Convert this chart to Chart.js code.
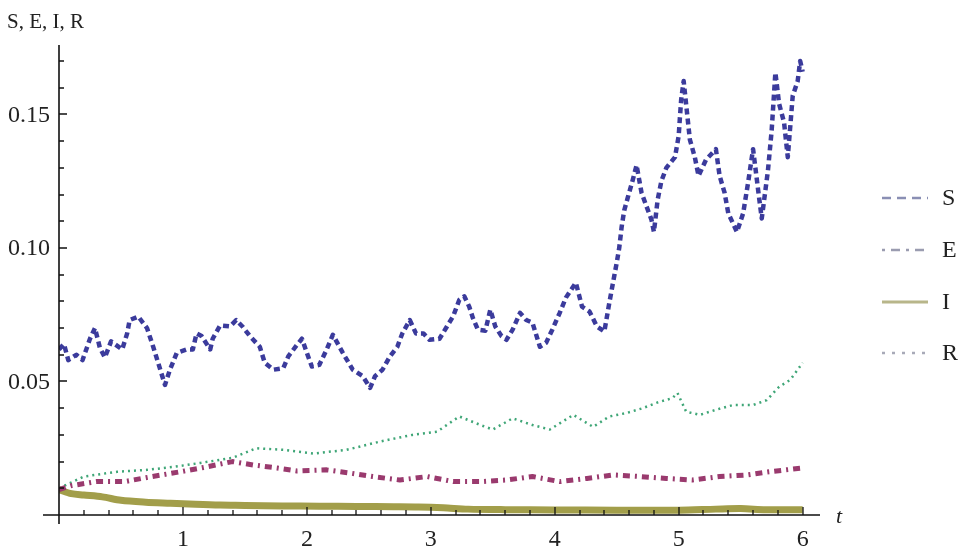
<!DOCTYPE html>
<html lang="en">
<head>
    <meta charset="UTF-8">
    <title>S, E, I, R</title>
    <script src="https://cdn.jsdelivr.net/npm/chart.js"></script>
    <style>
        body { margin: 0; background: #fff; }
        canvas { display: block; }
    </style>
</head>
<body>
    <canvas id="seirChart" width="967" height="550"></canvas>

    <script>
        // values
        const sT = [0, 0.04, 0.075, 0.14, 0.19, 0.25, 0.29, 0.33, 0.37, 0.42, 0.51, 0.55, 0.57, 0.64, 0.71, 0.76, 0.80, 0.855, 0.895, 0.95,
            1.03, 1.08, 1.11, 1.15, 1.22, 1.24, 1.30, 1.38, 1.43, 1.48, 1.54, 1.62, 1.66, 1.73, 1.81, 1.85, 1.92, 1.96,
            2.00, 2.04, 2.10, 2.16, 2.21, 2.29, 2.37, 2.45, 2.51, 2.55, 2.61, 2.67, 2.73, 2.77, 2.83, 2.88, 2.94, 2.99,
            3.07, 3.13, 3.18, 3.23, 3.27, 3.31, 3.34, 3.38, 3.44, 3.48, 3.52, 3.57, 3.61, 3.66, 3.72, 3.77, 3.82, 3.88, 3.93, 3.98,
            4.04, 4.09, 4.17, 4.22, 4.28, 4.34, 4.40, 4.44, 4.47, 4.50, 4.52, 4.54, 4.56, 4.59, 4.63, 4.66, 4.70, 4.74, 4.78, 4.80,
            4.83, 4.86, 4.90, 4.97, 5.00, 5.01, 5.02, 5.04, 5.09, 5.13, 5.16, 5.22, 5.30, 5.33, 5.37, 5.40, 5.47, 5.52, 5.56,
            5.60, 5.64, 5.67, 5.72, 5.75, 5.78, 5.81, 5.85, 5.88, 5.92, 5.96, 5.98, 6.00];
        const sV = [0.062, 0.064, 0.058, 0.060, 0.058, 0.066, 0.070, 0.0626, 0.059, 0.065, 0.062, 0.068, 0.073, 0.0743, 0.070, 0.063, 0.057, 0.0487, 0.0544, 0.0607,
            0.062, 0.062, 0.068, 0.067, 0.062, 0.066, 0.071, 0.0706, 0.073, 0.0706, 0.067, 0.063, 0.057, 0.0544, 0.055, 0.0594, 0.0637, 0.066,
            0.0607, 0.0556, 0.0562, 0.062, 0.0675, 0.0607, 0.0544, 0.052, 0.0476, 0.052, 0.0544, 0.0594, 0.063, 0.068, 0.073, 0.068, 0.068, 0.0656,
            0.066, 0.0706, 0.0744, 0.0806, 0.0819, 0.078, 0.0737, 0.0694, 0.069, 0.0769, 0.0706, 0.067, 0.0656, 0.0694, 0.0757, 0.073, 0.072, 0.063, 0.0645, 0.0694,
            0.0757, 0.0814, 0.087, 0.078, 0.0762, 0.0706, 0.0687, 0.0794, 0.087, 0.0945, 0.100, 0.108, 0.114, 0.119, 0.1256, 0.131, 0.1207, 0.1156, 0.1106, 0.106,
            0.118, 0.125, 0.130, 0.134, 0.142, 0.149, 0.1556, 0.1625, 0.1406, 0.134, 0.127, 0.133, 0.137, 0.127, 0.1207, 0.113, 0.106, 0.113, 0.1245,
            0.137, 0.122, 0.111, 0.129, 0.144, 0.1657, 0.154, 0.147, 0.134, 0.157, 0.1625, 0.170, 0.166];

        const eT = [0, 0.1, 0.3, 0.53, 0.75, 0.98, 1.19, 1.4, 1.57, 1.76, 1.92, 2.16, 2.35, 2.53, 2.75, 2.97, 3.18, 3.4, 3.61, 3.82,
            4.04, 4.26, 4.47, 4.69, 4.9, 5.11, 5.33, 5.55, 5.73, 6.0];
        const eV = [0.0095, 0.011, 0.0125, 0.0125, 0.0144, 0.0162, 0.018, 0.020, 0.0187, 0.0176, 0.0165, 0.0169, 0.0157, 0.0144, 0.0131, 0.0144, 0.0125, 0.0125, 0.0131, 0.0144,
            0.0125, 0.0137, 0.015, 0.0144, 0.0137, 0.0131, 0.0144, 0.015, 0.0162, 0.0176];

        const iT = [0, 0.1, 0.2, 0.35, 0.5, 0.7, 0.9, 1.1, 1.3, 1.5, 1.8, 2.1, 2.4, 2.7, 2.9, 3.1, 3.3, 3.6, 4.0, 4.5, 5.0, 5.3, 5.5, 5.7, 6.0];
        const iV = [0.0095, 0.008, 0.0075, 0.0068, 0.0055, 0.0048, 0.0044, 0.004, 0.0037, 0.0036, 0.0034, 0.0033, 0.0032, 0.0031, 0.003, 0.0027, 0.0022, 0.002, 0.0019, 0.0018,
            0.0018, 0.0022, 0.0024, 0.002, 0.002];

        const rT = [0, 0.2, 0.47, 0.71, 0.92, 1.14, 1.4, 1.59, 1.81, 2.05, 2.32, 2.59, 2.85, 3.05, 3.23, 3.4, 3.5, 3.66, 3.82, 3.96,
            4.15, 4.31, 4.44, 4.58, 4.71, 4.82, 4.95, 4.99, 5.06, 5.17, 5.3, 5.44, 5.6, 5.71, 5.81, 5.9, 6.0];
        const rV = [0.010, 0.0144, 0.0162, 0.0169, 0.018, 0.0195, 0.0214, 0.025, 0.0244, 0.023, 0.0244, 0.0275, 0.030, 0.0312, 0.0369, 0.0337, 0.032, 0.0362, 0.0337, 0.032,
            0.0375, 0.033, 0.0369, 0.0382, 0.040, 0.042, 0.0438, 0.0457, 0.0387, 0.0375, 0.0394, 0.0412, 0.0412, 0.043, 0.048, 0.0506, 0.057];

        const xTicks = [1, 2, 3, 4, 5, 6];
        const yTicks = [0.05, 0.10, 0.15];
        const yTickLabels = ['0.05', '0.10', '0.15'];
        const seriesNames = ['S', 'E', 'I', 'R'];

        function toPoints(ts, vs) {
            return ts.map((t, i) => ({ x: t, y: vs[i] }));
        }

        const serif = "'Liberation Serif', 'DejaVu Serif', serif";

        // axes, ticks, labels and legend drawn the Mathematica way
        const mathAxes = {
            id: 'mathAxes',
            afterDraw(chart) {
                const ctx = chart.ctx;
                const xs = chart.scales.x, ys = chart.scales.y;
                const x0 = xs.getPixelForValue(0), y0 = ys.getPixelForValue(0);
                const top = chart.chartArea.top, right = chart.chartArea.right;
                ctx.save();
                ctx.strokeStyle = '#111';
                ctx.lineWidth = 1.6;
                ctx.beginPath();
                ctx.moveTo(x0 - 16, y0); ctx.lineTo(right, y0);
                ctx.moveTo(x0, top); ctx.lineTo(x0, y0 + 9);
                ctx.stroke();

                ctx.lineWidth = 1.3;
                ctx.beginPath();
                for (let k = 1; k <= 30; k++) {
                    const v = k * 0.2;
                    const px = Math.round(xs.getPixelForValue(v));
                    const len = k % 5 === 0 ? 8 : 5;
                    ctx.moveTo(px, y0); ctx.lineTo(px, y0 - len);
                }
                for (let k = 1; k <= 17; k++) {
                    const v = k * 0.01;
                    const py = Math.round(ys.getPixelForValue(v));
                    const len = k % 5 === 0 ? 8 : 5;
                    ctx.moveTo(x0, py); ctx.lineTo(x0 + len, py);
                }
                ctx.stroke();

                ctx.fillStyle = '#222';
                ctx.font = '24px ' + serif;
                ctx.textAlign = 'center';
                ctx.textBaseline = 'alphabetic';
                xTicks.forEach(v => ctx.fillText(String(v), xs.getPixelForValue(v), y0 + 31));
                ctx.textAlign = 'right';
                ctx.textBaseline = 'middle';
                yTicks.forEach((v, i) => ctx.fillText(yTickLabels[i], x0 - 9, ys.getPixelForValue(v) + 1));

                ctx.textAlign = 'left';
                ctx.textBaseline = 'alphabetic';
                ctx.font = '21px ' + serif;
                ctx.fillText('S, E, I, R', 7, 28);
                ctx.font = 'italic 22px ' + serif;
                ctx.fillText('t', 836, 523);

                // legend
                const legendY = [198, 250, 302, 353];
                const legendColor = ['#8a8fb4', '#9a9cb0', '#b8b68a', '#a8aab8'];
                const legendDash = [[9, 6], [3, 6, 9, 6], [], [3, 7]];
                chart.data.datasets.forEach((ds, i) => {
                    ctx.strokeStyle = legendColor[i];
                    ctx.lineWidth = i === 2 ? 3 : 2.5;
                    ctx.setLineDash(legendDash[i]);
                    ctx.beginPath();
                    ctx.moveTo(882, legendY[i]); ctx.lineTo(928, legendY[i]);
                    ctx.stroke();
                    ctx.setLineDash([]);
                    ctx.fillStyle = '#222';
                    ctx.font = '24px ' + serif;
                    ctx.textBaseline = 'middle';
                    ctx.fillText(seriesNames[i], 942, legendY[i] + 1);
                });
                ctx.restore();
            }
        };

        new Chart(document.getElementById('seirChart'), {
            type: 'line',
            data: {
                datasets: [{
                    label: 'S',
                    data: toPoints(sT, sV),
                    borderColor: '#3b3b9c',
                    borderWidth: 4.5,
                    borderDash: [6, 4],
                    borderJoinStyle: 'round',
                    pointRadius: 0,
                    tension: 0
                }, {
                    label: 'E',
                    data: toPoints(eT, eV),
                    borderColor: '#9a3a6e',
                    borderWidth: 5,
                    borderDash: [7, 5, 2, 5],
                    borderJoinStyle: 'round',
                    pointRadius: 0,
                    tension: 0
                }, {
                    label: 'I',
                    data: toPoints(iT, iV),
                    borderColor: '#a29e4a',
                    borderWidth: 7,
                    borderJoinStyle: 'round',
                    pointRadius: 0,
                    tension: 0.3
                }, {
                    label: 'R',
                    data: toPoints(rT, rV),
                    borderColor: '#3fa677',
                    borderWidth: 2.5,
                    borderDash: [2, 4],
                    borderJoinStyle: 'round',
                    pointRadius: 0,
                    tension: 0
                }]
            },
            options: {
                responsive: false,
                animation: false,
                devicePixelRatio: 1,
                layout: { padding: { left: 59, right: 147, top: 45, bottom: 35 } },
                scales: {
                    x: { type: 'linear', min: 0, max: 6.14, display: false },
                    y: { type: 'linear', min: 0, max: 0.176, display: false }
                },
                plugins: {
                    legend: { display: false },
                    tooltip: { enabled: false }
                }
            },
            plugins: [mathAxes]
        });
    </script>
</body>
</html>
